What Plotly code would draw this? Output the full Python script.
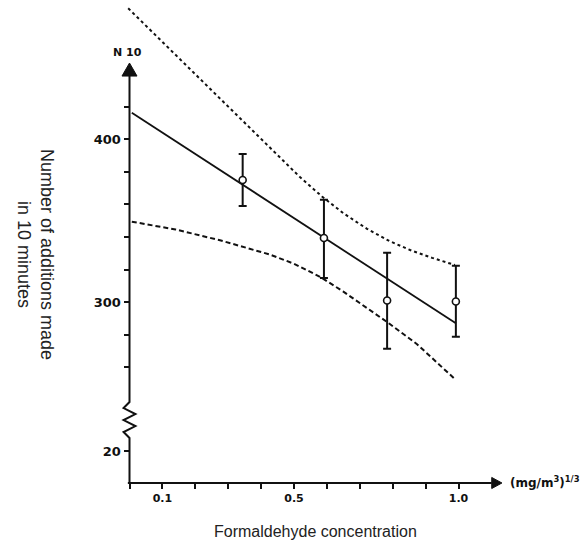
import plotly.graph_objects as go

# ---------------- data ----------------
conc = [0.344, 0.591, 0.783, 0.992]            # (mg/m3)^(1/3)
n10_mean = [375.0, 339.4, 301.0, 300.4]
n10_high = [391.0, 362.8, 330.4, 322.3]
n10_low = [359.1, 314.9, 271.4, 278.7]

fit_x = [0.007, 0.992]
fit_y = [416.3, 287.0]

upper_x = [-0.004, 0.163, 0.330, 0.433, 0.518, 0.585, 0.65, 0.722, 0.79, 0.853, 0.92, 0.989]
upper_y = [480.4, 447.1, 413.7, 393.4, 376.8, 364.9, 354.6, 345.0, 337.5, 332.0, 327.2, 322.8]

lower_x = [0.007, 0.14, 0.275, 0.35, 0.427, 0.50, 0.579, 0.649, 0.72, 0.783, 0.874, 0.989]
lower_y = [349.4, 344.6, 338.0, 333.8, 329.2, 323.6, 315.6, 306.6, 296.8, 287.8, 274.2, 252.8]

x_tickvals = [0.0, 0.1, 0.2, 0.3, 0.4, 0.5, 0.6, 0.7, 0.8, 0.9, 1.0]
x_ticktext = ["", "0.1", "", "", "", "0.5", "", "", "", "", "1.0"]
y_tickvals = [420, 400, 380, 360, 340, 320, 300, 280, 260, 208.6]
y_ticktext = ["", "400", "", "", "", "", "300", "", "", "20"]

# ---------------- layout constants ----------------
W, H = 580, 548
X_RANGE = [-0.3936, 1.3693]
Y_RANGE = [149.09, 485.49]
Y_BOTTOM = 189.0          # where the x axis crosses
Y_TOP_BASE = 438.8        # base of y arrow
Y_TOP_TIP = 446.8
X_END_BASE = 1.101
X_END_TIP = 1.132
BREAK_LO, BREAK_HI = 216.6, 238.7

BOLD = "DejaVu Sans"
INK = "#111111"

fig = go.Figure()

fig.add_trace(go.Scatter(x=upper_x, y=upper_y, mode="lines",
                         line=dict(color=INK, width=2, dash="3px,3px"),
                         hoverinfo="skip", showlegend=False))
fig.add_trace(go.Scatter(x=lower_x, y=lower_y, mode="lines",
                         line=dict(color=INK, width=2, dash="5px,3px"),
                         hoverinfo="skip", showlegend=False))
fig.add_trace(go.Scatter(x=fit_x, y=fit_y, mode="lines",
                         line=dict(color=INK, width=1.8),
                         hoverinfo="skip", showlegend=False))
fig.add_trace(go.Scatter(
    x=conc, y=n10_mean, mode="markers",
    marker=dict(symbol="circle", size=7, color="white", line=dict(color=INK, width=1.6)),
    error_y=dict(type="data", symmetric=False,
                 array=[h - m for h, m in zip(n10_high, n10_mean)],
                 arrayminus=[m - l for m, l in zip(n10_mean, n10_low)],
                 color=INK, thickness=2, width=4),
    showlegend=False))

# ---- axis decorations (lines, break and arrows) ----
dx = 0.018   # zigzag half width in x units
step = (BREAK_HI - BREAK_LO) / 6
zig = [(0, BREAK_LO)]
for i in range(1, 6):
    zig.append((-dx if i % 2 else dx, BREAK_LO + i * step))
zig.append((0, BREAK_HI))

yaxis_path = f"M 0 {Y_BOTTOM} L 0 {BREAK_LO} " + " ".join(
    f"L {a} {b}" for a, b in zig[1:]) + f" L 0 {Y_TOP_BASE}"
fig.add_shape(type="path", path=yaxis_path, xref="x", yref="y",
              line=dict(color=INK, width=2))
fig.add_shape(type="path",
              path=f"M -0.0228 {Y_TOP_BASE} L 0.0228 {Y_TOP_BASE} L 0 {Y_TOP_TIP} Z",
              xref="x", yref="y", fillcolor=INK, line=dict(color=INK, width=1))
fig.add_shape(type="line", x0=-0.005, x1=X_END_BASE, y0=Y_BOTTOM, y1=Y_BOTTOM,
              xref="x", yref="y", line=dict(color=INK, width=2))
fig.add_shape(type="path",
              path=f"M {X_END_BASE} {Y_BOTTOM - 3.4} L {X_END_BASE} {Y_BOTTOM + 3.4} "
                   f"L {X_END_TIP} {Y_BOTTOM} Z",
              xref="x", yref="y", fillcolor=INK, line=dict(color=INK, width=1))

# ---- labels ----
fig.add_annotation(x=127 / W, y=1 - 52.5 / H, xref="paper", yref="paper",
                   xanchor="center", yanchor="middle",
                   text="N 10", showarrow=False,
                   font=dict(family=BOLD, size=11, color=INK, weight="bold"))
fig.add_annotation(x=508 / W, y=1 - 482 / H, xref="paper", yref="paper",
                   xanchor="left", yanchor="middle",
                   text="(mg/m<sup>3</sup>)<sup>1/3</sup>", showarrow=False,
                   font=dict(family=BOLD, size=12, color=INK, weight="bold"))
fig.add_annotation(x=35 / W, y=1 - 254 / H, xref="paper", yref="paper",
                   xanchor="center", yanchor="middle",
                   text="Number of additions made<br>in 10 minutes", textangle=90,
                   showarrow=False, align="center",
                   font=dict(family="Liberation Sans, Arial", size=18, color="#222"))
fig.add_annotation(x=315 / W, y=1 - 531 / H, xref="paper", yref="paper",
                   xanchor="center", yanchor="middle",
                   text="Formaldehyde concentration", showarrow=False,
                   font=dict(family="Liberation Sans, Arial", size=16, color="#222"))

fig.update_layout(
    width=W, height=H, margin=dict(l=0, r=0, t=0, b=0),
    paper_bgcolor="white", plot_bgcolor="white",
    xaxis=dict(range=X_RANGE, anchor="free", position=(H - 483) / H,
               showgrid=False, zeroline=False, showline=False,
               tickmode="array", tickvals=x_tickvals, ticktext=x_ticktext,
               ticks="outside", ticklen=5, tickwidth=1.5, tickcolor=INK,
               tickfont=dict(family=BOLD, size=11, color=INK, weight="bold"),
               automargin=False, fixedrange=True),
    yaxis=dict(range=Y_RANGE, anchor="free", position=129.5 / W,
               showgrid=False, zeroline=False, showline=False,
               tickmode="array", tickvals=y_tickvals, ticktext=y_ticktext,
               ticks="outside", ticklen=6, tickwidth=1.5, tickcolor=INK,
               tickfont=dict(family=BOLD, size=13, color=INK, weight="bold"),
               automargin=False, fixedrange=True),
    showlegend=False,
)

fig.write_html("out.html")
